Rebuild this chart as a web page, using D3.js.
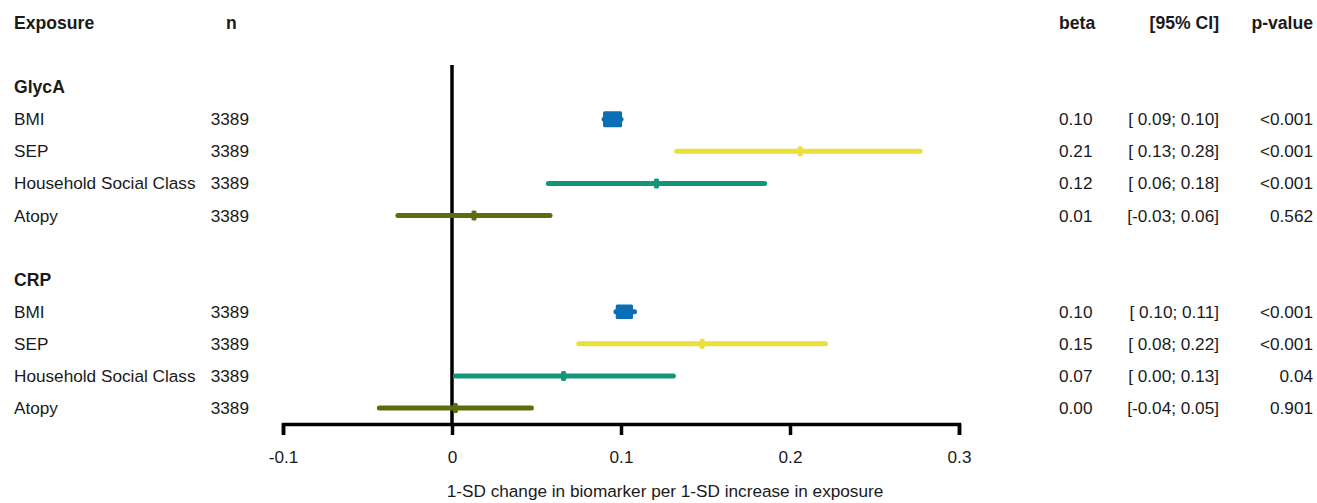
<!DOCTYPE html>
<html>
<head>
<meta charset="utf-8">
<script src="https://cdn.jsdelivr.net/npm/d3@7"></script>
<style>
  body { margin: 0; background: #fff; }
  text { font-family: "Liberation Sans", Arial, sans-serif; fill: #1a1a1a; }
  .bold { font-weight: bold; }
</style>
</head>
<body>
<div class="content"></div>
<script>
//--> Data
const outcomes = ["GlycA", "CRP"];
const exposures = ["BMI", "SEP", "Household Social Class", "Atopy"];
const nValues = [3389, 3389, 3389, 3389, 3389, 3389, 3389, 3389];
const betas = [0.095, 0.206, 0.121, 0.013, 0.102, 0.148, 0.066, 0.002];
const lower = [0.090, 0.133, 0.057, -0.032, 0.097, 0.075, 0.002, -0.043];
const upper = [0.100, 0.277, 0.185, 0.058, 0.108, 0.221, 0.131, 0.047];
const betaLabels = ["0.10", "0.21", "0.12", "0.01", "0.10", "0.15", "0.07", "0.00"];
const ciLabels = ["[ 0.09; 0.10]", "[ 0.13; 0.28]", "[ 0.06; 0.18]", "[-0.03; 0.06]",
                  "[ 0.10; 0.11]", "[ 0.08; 0.22]", "[ 0.00; 0.13]", "[-0.04; 0.05]"];
const pLabels = ["<0.001", "<0.001", "<0.001", "0.562", "<0.001", "<0.001", "0.04", "0.901"];
const ticks = [-0.1, 0, 0.1, 0.2, 0.3];

//--> Constants
const width = 1317;
const height = 503;
const fontSize = 17.2;
const boldSize = 17.6;
const exposureColors = ["#0a6fb5", "#e9e03c", "#12967a", "#5b6e0e"];

const svg = d3.select(".content")
  .append("svg")
  .attr("width", width)
  .attr("height", height);

//--> Row layout: header, blank, outcome, 4 exposures, blank, outcome, 4 exposures
const rows = [];
rows.push({ type: "header" });
outcomes.forEach((o, oi) => {
  rows.push({ type: "blank" });
  rows.push({ type: "outcome", label: o });
  exposures.forEach((e, ei) => {
    rows.push({ type: "item", label: e, i: oi * exposures.length + ei, color: exposureColors[ei] });
  });
});

const y = d3.scalePoint()
  .domain(d3.range(rows.length))
  .range([23, 408]);

const x = d3.scaleLinear()
  .domain([-0.1, 0.3])
  .range([283, 959]);

const axisY = 424;
const items = rows.map((r, idx) => ({ ...r, idx })).filter(r => r.type === "item");

//--> Header row
const headers = [
  { x: 14, anchor: "start", text: "Exposure" },
  { x: 226, anchor: "start", text: "n" },
  { x: 1059, anchor: "start", text: "beta" },
  { x: 1219, anchor: "end", text: "[95% CI]" },
  { x: 1313, anchor: "end", text: "p-value" }
];
svg.append("g")
  .selectAll("text")
  .data(headers)
  .enter()
  .append("text")
  .attr("class", "bold")
  .attr("x", d => d.x)
  .attr("y", y(0))
  .attr("dy", "0.35em")
  .attr("text-anchor", d => d.anchor)
  .attr("font-size", boldSize)
  .text(d => d.text);

svg.selectAll("text.outcome")
  .data(rows.map((r, idx) => ({ ...r, idx })).filter(r => r.type === "outcome"))
  .enter()
  .append("text")
  .attr("class", "outcome bold")
  .attr("x", 14)
  .attr("y", d => y(d.idx))
  .attr("dy", "0.35em")
  .attr("font-size", boldSize)
  .text(d => d.label);

//--> Table columns
const textCols = [
  { x: 14, anchor: "start", get: d => d.label },
  { x: 249, anchor: "end", get: d => nValues[d.i] },
  { x: 1059, anchor: "start", get: d => betaLabels[d.i] },
  { x: 1219, anchor: "end", get: d => ciLabels[d.i] },
  { x: 1313, anchor: "end", get: d => pLabels[d.i] }
];

textCols.forEach(col => {
  svg.append("g")
    .selectAll("text")
    .data(items)
    .enter()
    .append("text")
    .attr("x", col.x)
    .attr("y", d => y(d.idx))
    .attr("dy", "0.35em")
    .attr("text-anchor", col.anchor)
    .attr("font-size", fontSize)
    .style("white-space", "pre")
    .text(col.get);
});

//--> Zero line
svg.append("line")
  .attr("x1", x(0)).attr("x2", x(0))
  .attr("y1", 65).attr("y2", axisY)
  .attr("stroke", "#000")
  .attr("stroke-width", 3.5);

//--> CI lines
const plot = svg.append("g");
plot.selectAll("line.ci")
  .data(items)
  .enter()
  .append("line")
  .attr("class", "ci")
  .attr("x1", d => x(lower[d.i]))
  .attr("x2", d => x(upper[d.i]))
  .attr("y1", d => y(d.idx))
  .attr("y2", d => y(d.idx))
  .attr("stroke", d => d.color)
  .attr("stroke-width", 5)
  .attr("stroke-linecap", "round");

//--> Boxes sized by precision (inverse CI width)
const boxSize = d => Math.max(5, 0.19 / (upper[d.i] - lower[d.i]));
const boxH = d => Math.max(10, boxSize(d) * 0.85);
plot.selectAll("rect.box")
  .data(items)
  .enter()
  .append("rect")
  .attr("class", "box")
  .attr("x", d => x(betas[d.i]) - boxSize(d) / 2)
  .attr("y", d => y(d.idx) - boxH(d) / 2)
  .attr("width", d => boxSize(d))
  .attr("height", d => boxH(d))
  .attr("rx", 1.5)
  .attr("fill", d => d.color);

//--> Axis
const axis = d3.axisBottom(x)
  .tickValues(ticks)
  .tickSize(11)
  .tickSizeOuter(11)
  .tickFormat(d => String(d));

const axisG = svg.append("g")
  .attr("transform", `translate(0, ${axisY})`)
  .call(axis);

axisG.select(".domain").attr("stroke", "#000").attr("stroke-width", 3.5).attr("fill", "none");
axisG.selectAll(".tick line").attr("stroke", "#000").attr("stroke-width", 3.5);
axisG.selectAll(".tick text")
  .attr("y", 39)
  .attr("dy", "0")
  .attr("font-size", fontSize)
  .attr("font-family", "Liberation Sans, Arial, sans-serif")
  .attr("fill", "#1a1a1a");

svg.append("text")
  .attr("x", 665)
  .attr("y", 491)
  .attr("dy", "0.35em")
  .attr("text-anchor", "middle")
  .attr("font-size", fontSize)
  .text("1-SD change in biomarker per 1-SD increase in exposure");
</script>
</body>
</html>
